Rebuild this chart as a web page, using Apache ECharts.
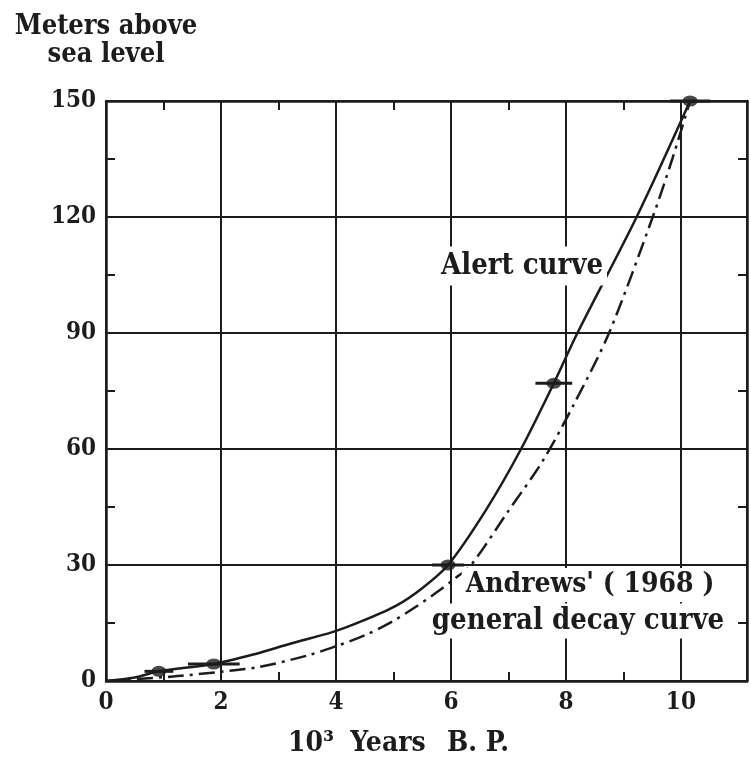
<!DOCTYPE html>
<html>
<head>
<meta charset="utf-8">
<script src="https://cdn.jsdelivr.net/npm/echarts@6/dist/echarts.min.js"></script>
<style>
  html, body { margin: 0; padding: 0; background: #fff; }
  #chart { width: 750px; height: 770px; }
</style>
</head>
<body>
<div id="chart"></div>
<script>
// Axis ticks (thousands of years B.P. / meters above sea level)
const xTickLabels = [0, 2, 4, 6, 8, 10];
const xMinorTicks = [1, 3, 5, 7, 9];
const yTickLabels = [0, 30, 60, 90, 120, 150];
const yMinorTicks = [15, 45, 75, 105, 135];

// Alert curve (solid)
const alertYears  = [0, 0.5, 0.92, 1.875, 2.6, 3.22, 3.95, 4.47, 5.05, 5.5, 5.95, 6.6, 7.22, 7.79, 8.2, 9.23, 10.16];
const alertHeight = [0, 0.9, 2.5, 4.4, 7.0, 9.7, 12.7, 15.6, 19.5, 24, 30, 44, 60, 77, 90, 120, 150];

// Andrews' (1968) general decay curve (dash-dot)
const andrewsYears  = [0, 1.2, 2.0, 2.66, 3.53, 4.0, 4.5, 4.97, 5.37, 5.74, 6.07, 6.35, 7.0, 7.6, 8.14, 8.75, 9.51, 9.85, 10.16];
const andrewsHeight = [0, 1.2, 2.4, 3.6, 6.7, 9.0, 11.8, 15.3, 19, 22.8, 26.5, 30, 44, 57, 71.6, 90, 120, 135, 150];

// Dated samples with their age ranges (half-width, 10^3 years)
const sampleYears  = [0.92, 1.875, 5.95, 7.79, 10.16];
const sampleHeight = [2.5, 4.4, 30, 77, 150];
const sampleSpread = [0.25, 0.45, 0.28, 0.32, 0.35];

const X_MAX = 11.15;
const GRID = { left: 106, right: 3, top: 101, bottom: 89 };
const PLOT_W = 750 - GRID.left - GRID.right;
const INK = '#1c1c1c';
const FONT = '"DejaVu Serif Condensed", "DejaVu Serif", serif';

const zip = (xs, ys) => xs.map((x, i) => [x, ys[i]]);
const gridLine = { color: INK, width: 2 };
const frameLine = { show: true, onZero: false, lineStyle: { color: INK, width: 2.5 } };
const innerTicks = values => ({
  show: true, inside: true, length: 9, customValues: values,
  lineStyle: { color: INK, width: 2 }
});
// tick-only vertical axes: placed on the opposite edge so their ticks face into the plot
const edgeTicksY = (gridIndex, position, offset) => ({
  type: 'value', gridIndex: gridIndex, position: position, offset: offset,
  min: 0, max: 150, interval: 15,
  axisLine: { show: false, onZero: false },
  axisTick: {
    show: true, inside: false, length: 9, customValues: yMinorTicks,
    lineStyle: { color: INK, width: 2 }
  },
  axisLabel: { show: false },
  splitLine: { show: false }
});
const hiddenX = gridIndex => ({
  type: 'value', gridIndex: gridIndex, show: false, min: 0, max: X_MAX,
  axisLine: { onZero: false }
});

const chart = echarts.init(document.getElementById('chart'));

chart.setOption({
  backgroundColor: '#fff',
  animation: false,
  grid: [Object.assign({}, GRID), Object.assign({}, GRID), Object.assign({}, GRID)],
  xAxis: [
    {
      type: 'value', gridIndex: 0, position: 'bottom',
      min: 0, max: X_MAX, interval: 2,
      axisLine: frameLine,
      axisTick: { show: false },
      axisLabel: {
        showMaxLabel: false,
        margin: 10,
        color: INK, fontFamily: FONT, fontWeight: 'bold', fontSize: 24,
        formatter: v => (xTickLabels.indexOf(v) >= 0 ? String(v) : '')
      },
      splitLine: { show: true, lineStyle: gridLine }
    },
    {
      type: 'value', gridIndex: 0, position: 'top',
      min: 0, max: X_MAX, interval: 1,
      axisLine: frameLine,
      axisTick: innerTicks(xMinorTicks),
      axisLabel: { show: false },
      splitLine: { show: false }
    },
    {
      type: 'value', gridIndex: 1, position: 'bottom',
      min: 0, max: X_MAX, interval: 1,
      axisLine: { show: false, onZero: false },
      axisTick: innerTicks(xMinorTicks),
      axisLabel: { show: false },
      splitLine: { show: false }
    },
    hiddenX(2)
  ],
  yAxis: [
    {
      type: 'value', gridIndex: 0, position: 'left',
      min: 0, max: 150, interval: 30,
      name: 'Meters above\nsea level',
      nameLocation: 'end',
      nameGap: 32,
      nameTextStyle: {
        color: INK, fontFamily: FONT, fontWeight: 'bold', fontSize: 27,
        lineHeight: 28, align: 'center', verticalAlign: 'bottom'
      },
      axisLine: frameLine,
      axisTick: { show: false },
      axisLabel: {
        margin: 10,
        color: INK, fontFamily: FONT, fontWeight: 'bold', fontSize: 24,
        formatter: v => (yTickLabels.indexOf(v) >= 0 ? String(v) : '')
      },
      splitLine: { show: true, lineStyle: gridLine }
    },
    {
      type: 'value', gridIndex: 0, position: 'right',
      min: 0, max: 150, interval: 30,
      axisLine: frameLine,
      axisTick: { show: false },
      axisLabel: { show: false },
      splitLine: { show: false }
    },
    // ticks along the right frame (left slot shifted across the plot)
    edgeTicksY(1, 'left', -PLOT_W),
    // ticks along the left frame (right slot shifted across the plot)
    edgeTicksY(2, 'right', -PLOT_W)
  ],
  series: [
    {
      name: 'Alert curve',
      type: 'line', xAxisIndex: 0, yAxisIndex: 0,
      data: zip(alertYears, alertHeight),
      showSymbol: false, smooth: 0.3,
      lineStyle: { color: INK, width: 2.5 },
      z: 3
    },
    {
      name: "Andrews' (1968) general decay curve",
      type: 'line', xAxisIndex: 0, yAxisIndex: 0,
      data: zip(andrewsYears, andrewsHeight),
      showSymbol: false, smooth: 0.3,
      lineStyle: { color: INK, width: 2.5, type: [16, 6, 3, 6] },
      z: 3
    },
    {
      name: 'Age range',
      type: 'custom', xAxisIndex: 0, yAxisIndex: 0,
      data: sampleYears.map((x, i) => [x, sampleHeight[i], sampleSpread[i]]),
      renderItem: (params, api) => {
        const x = api.value(0), y = api.value(1), s = api.value(2);
        const a = api.coord([x - s, y]);
        const b = api.coord([x + s, y]);
        return {
          type: 'line',
          shape: { x1: a[0], y1: a[1], x2: b[0], y2: b[1] },
          style: { stroke: INK, lineWidth: 3 }
        };
      },
      clip: false,
      z: 5
    },
    {
      name: 'Samples',
      type: 'scatter', xAxisIndex: 0, yAxisIndex: 0,
      data: zip(sampleYears, sampleHeight),
      symbol: 'circle', symbolSize: [15, 11],
      itemStyle: { color: INK },
      clip: false,
      z: 6
    }
  ],
  graphic: [
    {
      type: 'text', z: 100, x: 522, y: 266,
      style: {
        text: 'Alert curve', fill: INK, align: 'center', verticalAlign: 'middle',
        font: 'bold 29px ' + FONT, backgroundColor: '#fff', padding: [5, 4]
      }
    },
    {
      type: 'text', z: 100, x: 590, y: 585,
      style: {
        text: "Andrews' ( 1968 )", fill: INK, align: 'center', verticalAlign: 'middle',
        font: 'bold 28px ' + FONT, backgroundColor: '#fff', padding: [3, 4]
      }
    },
    {
      type: 'text', z: 100, x: 578, y: 621,
      style: {
        text: 'general decay curve', fill: INK, align: 'center', verticalAlign: 'middle',
        font: 'bold 29px ' + FONT, backgroundColor: '#fff', padding: [3, 4]
      }
    },
    {
      type: 'text', z: 100, x: 311, y: 744,
      style: { text: '10\u00B3', fill: INK, align: 'center', verticalAlign: 'middle', font: 'bold 28px ' + FONT }
    },
    {
      type: 'text', z: 100, x: 388, y: 744,
      style: { text: 'Years', fill: INK, align: 'center', verticalAlign: 'middle', font: 'bold 28px ' + FONT }
    },
    {
      type: 'text', z: 100, x: 478, y: 744,
      style: { text: 'B. P.', fill: INK, align: 'center', verticalAlign: 'middle', font: 'bold 28px ' + FONT }
    }
  ]
});
</script>
</body>
</html>
